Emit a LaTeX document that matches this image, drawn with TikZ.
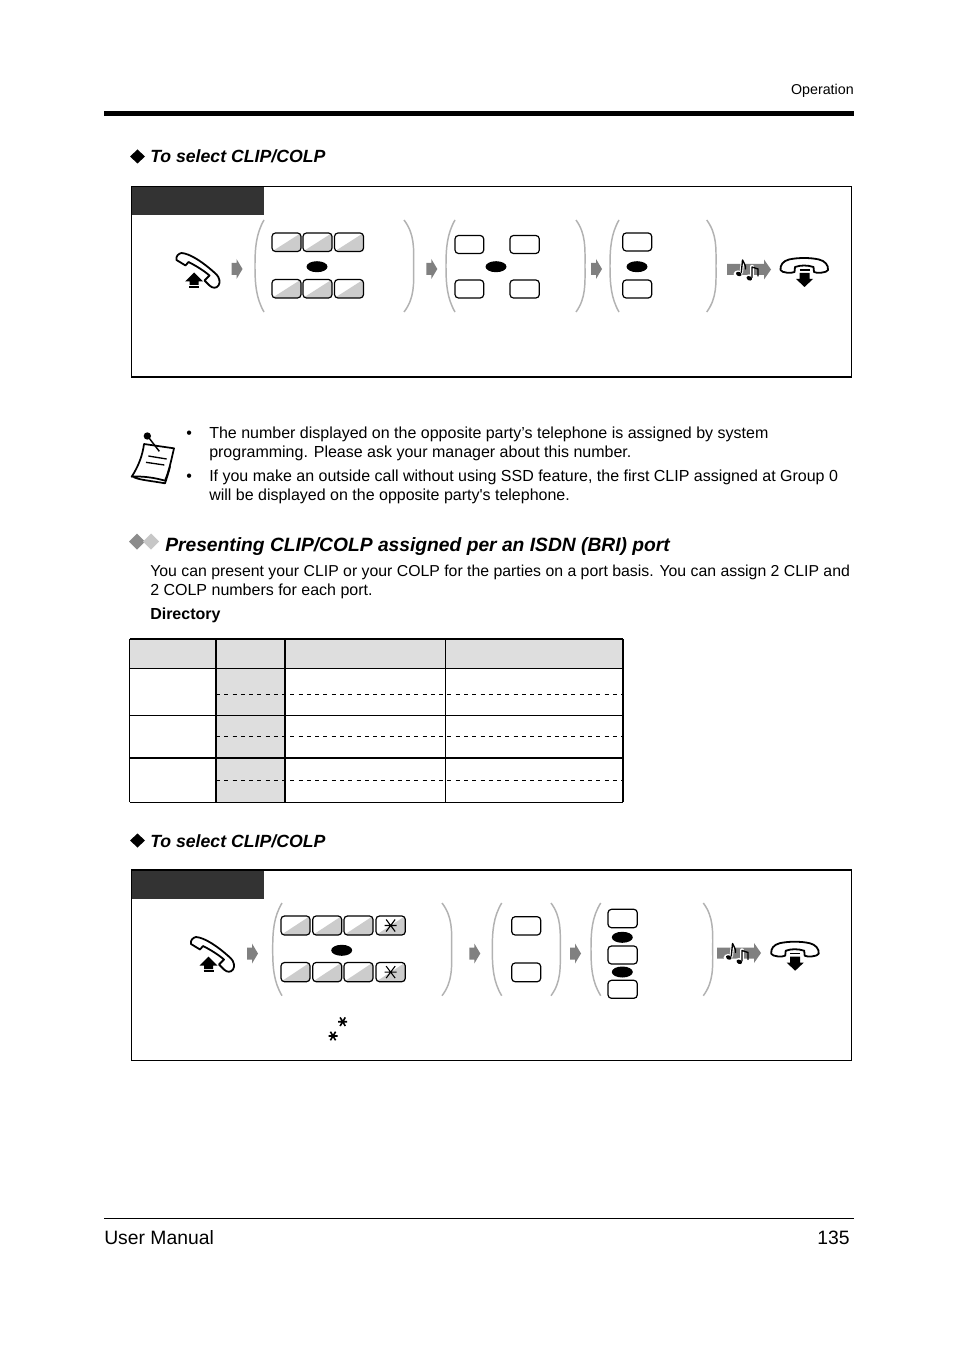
\documentclass[tikz,border=0pt]{standalone}
\usepackage{fontspec}
\setmainfont{Liberation Sans}
\newfontfamily\plainf{Liberation Sans}
\newcommand{\fsz}[1]{\fontsize{#1}{#1}\selectfont}
\tikzset{
  x=0.75pt,y=-0.75pt,
  txt/.style={inner sep=0pt,anchor=base west,font=\fsz{12}},
  subhead/.style={inner sep=0pt,anchor=base west,font=\fsz{13.25}\bfseries\itshape},
  frame/.style={draw=black,line width=0.9pt,fill=white},
  hdr/.style={fill=black!80,draw=none},
  brk/.style={draw=black!30,line width=1.1pt},
  flow/.style={fill=black!50,draw=none},
  dot/.style={fill=black,draw=none},
  keybox/.style={draw=black,line width=0.9pt,rounded corners=2.6pt},
  cellfill/.style={fill=black!13,draw=none},
  thin rule/.style={line width=0.75pt},
  mid rule/.style={line width=1.3pt},
  dash rule/.style={line width=0.55pt,dash pattern=on 3pt off 3.2pt},
  phone/.style={draw=black,line width=1.35pt,fill=white,line join=round},
}
% plain key: x1,y1,x2,y2
\newcommand{\pkey}[4]{\draw[keybox,fill=white] (#1,#2) rectangle (#3,#4);}
% shaded key
\newcommand{\gkey}[4]{%
  \begin{scope}
    \clip[rounded corners=2.6pt] (#1,#2) rectangle (#3,#4);
    \fill[black!20] (#1,#4) -- (#3,#2) -- (#3,#4) -- cycle;
  \end{scope}
  \draw[keybox] (#1,#2) rectangle (#3,#4);}
\newcommand{\skey}[4]{\gkey{#1}{#2}{#3}{#4}%
  \draw[line width=0.8pt] ({(#1+#3)/2-6},{(#2+#4)/2}) -- ({(#1+#3)/2+6},{(#2+#4)/2})
    ({(#1+#3)/2-4.5},{(#2+#4)/2-6}) -- ({(#1+#3)/2+4.5},{(#2+#4)/2+6})
    ({(#1+#3)/2+4.5},{(#2+#4)/2-6}) -- ({(#1+#3)/2-4.5},{(#2+#4)/2+6});}
% or-oval
\newcommand{\ordot}[2]{\fill[dot] (#1,#2) ellipse [x radius=10.5,y radius=5.5];}
% flow arrow at left x, centre y
\newcommand{\flowarrow}[2]{\fill[flow] (#1,#2-6) -- (#1+5,#2-6) -- (#1+5,#2-10) -- (#1+11,#2) -- (#1+5,#2+10) -- (#1+5,#2+6) -- (#1,#2+6) -- cycle;}
% parentheses: x outer, x inner, top, bottom
\newcommand{\lbrk}[4]{\draw[brk] (#2,#3) .. controls (#1+1,#3+14) and (#1,#3+28) .. (#1,#3+46) .. controls (#1,#4-28) and (#1+1,#4-14) .. (#2,#4);}
% off-hook handset at origin = top left
\newcommand{\offhook}[2]{%
  \begin{scope}[shift={(#1,#2)}]
    \draw[phone] (1,7.5) .. controls (0,4) and (3,1) .. (6,0.5) .. controls (14,1) and (27,9) .. (41,22)
      .. controls (44,25) and (45,30) .. (43,33) .. controls (41,36) and (37,36) .. (34,33)
      -- (29,28) -- (34,23) .. controls (27,17) and (18,12) .. (13,9.5) -- (10,13) -- cycle;
    \fill (18.5,20) -- (27.5,29) -- (23,29) -- (23,32.5) -- (14,32.5) -- (14,29) -- (9.5,29) -- cycle;
    \draw[line width=0.8pt] (13.5,34.5) -- (23.5,34.5);
  \end{scope}}
% on-hook handset
\newcommand{\onhook}[2]{%
  \begin{scope}[shift={(#1,#2)}]
    \draw[phone] (0.5,12) .. controls (0,7) and (3,3) .. (9,1.5) .. controls (18,-0.5) and (30,-0.5) .. (39,1.5)
      .. controls (45,3) and (48.5,7) .. (48,12) .. controls (47,15) and (36,15.5) .. (34,14)
      -- (33.5,9) .. controls (27,7) and (21,7) .. (15,9) -- (14.5,14) .. controls (12,15.5) and (1.5,15) .. (0.5,12) -- cycle;
    \draw[line width=0.8pt] (19.5,12) -- (29.5,12);
    \fill (19.5,15) -- (29.5,15) -- (29.5,21) -- (33,21) -- (24.5,29) -- (16,21) -- (19.5,21) -- cycle;
  \end{scope}}
% tone arrow with two notes
\newcommand{\tone}[2]{%
  \begin{scope}[shift={(#1,#2)}]
    \fill[flow] (0,-5.5) -- (37,-5.5) -- (37,-10) -- (44,0) -- (37,10) -- (37,5.5) -- (0,5.5) -- cycle;
    \begin{scope}[line cap=round]
      \draw[white,line width=2.6pt] (15.5,-8) -- (14.3,3);
      \fill[white] (11,4.5) ellipse [x radius=4.4,y radius=3.6];
      \draw[white,line width=2.6pt] (25,-3) -- (25,8);
      \fill[white] (22,8.5) ellipse [x radius=4.4,y radius=3.6];
      \draw[line width=1pt] (15.5,-9.5) -- (14.3,3) (15.5,-9.5) .. controls (16.5,-6) and (19,-5) .. (18.5,-0.5);
      \fill[rotate around={-25:(11.8,4.5)}] (11.8,4.5) ellipse [x radius=2.9,y radius=2.1];
      \draw[line width=1pt] (25,-2.5) -- (25,8) (25,-2.5) -- (31,-0.5) -- (31,6.5);
      \fill[rotate around={-25:(22.3,8.8)}] (22.3,8.8) ellipse [x radius=2.9,y radius=2.1];
    \end{scope}
  \end{scope}}
\begin{document}
\begin{tikzpicture}
\useasboundingbox (0,0) rectangle (954,1351);
\fill[white] (0,0) rectangle (954,1351);
% page head
\node[inner sep=0pt,anchor=base east,font=\fsz{10.7}] (runhead) at (854,94.5) {Operation};
\fill (104,111) rectangle (854,116);

% section one
\fill (130,156.5) -- (137.5,149.5) -- (145,156.5) -- (137.5,163.5) -- cycle;
\node[subhead] (sel1) at (150,162.5) {To select CLIP/COLP};
\draw[frame] (131.5,186.5) rectangle (851.5,377);
\fill[hdr] (132,187) rectangle (264,215);
\offhook{175.5}{252.5}
\flowarrow{231.5}{269}
\lbrk{255}{264}{220}{312}
\lbrk{413.7}{404}{220}{312}
\gkey{272}{233}{301}{251.5}\gkey{303}{233}{332}{251.5}\gkey{334.5}{233}{363.5}{251.5}
\ordot{317}{266.7}
\gkey{272}{279.5}{301}{298}\gkey{303}{279.5}{332}{298}\gkey{334.5}{279.5}{363.5}{298}
\flowarrow{426.3}{269}
\lbrk{446}{455}{220}{312}
\lbrk{585}{576}{220}{312}
\pkey{455}{235.5}{483.7}{253.5}\pkey{510}{235.5}{539.3}{253.5}
\ordot{496}{266.7}
\pkey{455}{280}{483.7}{298}\pkey{510}{280}{539.3}{298}
\flowarrow{591}{269}
\lbrk{610}{619}{220}{312}
\lbrk{716}{706.7}{220}{312}
\pkey{622.7}{233}{651.7}{251}
\ordot{637}{266.7}
\pkey{622.7}{280}{651.7}{298}
\tone{727}{269.5}
\onhook{780}{258}

% note
\begin{scope}[shift={(120,420)},x=0.25pt,y=-0.25pt]
  \draw[line width=1.3pt,line join=round,fill=white] (42,172) .. controls (60,180) and (90,182) .. (135,190) .. controls (140,175) and (145,160) .. (150,140) -- (120,150) -- cycle;
  \draw[line width=1.3pt,line join=round,fill=white] (72,72) -- (162,85) .. controls (155,115) and (148,150) .. (135,182) .. controls (100,172) and (65,168) .. (35,170) .. controls (55,140) and (68,105) .. (72,72) -- cycle;
  \draw[line width=1pt] (85,108) -- (140,117) (78,127) -- (133,135);
  \draw[line width=1.1pt] (84,50) -- (118,94);
  \fill (82,48) circle [radius=11];
\end{scope}
\node[txt] (b1) at (186,438) {•};
\node[txt] (n1) at (209,438) {The number displayed on the opposite party’s telephone is assigned by system};
\node[txt] (n2) at (209,457) {programming. Please ask your manager about this number.};
\node[txt] (b2) at (186,481) {•};
\node[txt] (n3) at (209,481) {If you make an outside call without using SSD feature, the first CLIP assigned at Group 0};
\node[txt,font=\fsz{12}\plainf] (n4) at (209,500) {will be displayed on the opposite party's telephone.};

% section two
\fill[black!45] (129,541.5) -- (137,533.5) -- (145,541.5) -- (137,549.5) -- cycle;
\fill[black!22] (143,541.5) -- (151,533.5) -- (159,541.5) -- (151,549.5) -- cycle;
\node[inner sep=0pt,anchor=base west,font=\fsz{14.43}\bfseries\itshape] (title) at (165,551) {Presenting CLIP/COLP assigned per an ISDN (BRI) port};
\node[txt,font=\fsz{11.87}] (p1) at (150,576) {You can present your CLIP or your COLP for the parties on a port basis. You can assign 2 CLIP and};
\node[txt] (p2) at (150,595) {2 COLP numbers for each port.};
\node[inner sep=0pt,anchor=base west,font=\fsz{12}\bfseries] (dir) at (150,619) {Directory};

% table
\fill[cellfill] (129.7,639) rectangle (623,668.3);
\fill[cellfill] (216,668.3) rectangle (285,802.3);
\draw[dash rule] (216,694.3) -- (622,694.3) (216,736.3) -- (622,736.3) (216,780.3) -- (622,780.3);
\draw[thin rule] (129.7,668.3) -- (623,668.3) (129.7,715.3) -- (623,715.3) (445.3,639) -- (445.3,802.3) (129.7,802.3) -- (623,802.3);
\draw[mid rule] (129.7,757.7) -- (623,757.7) (215.7,639) -- (215.7,802.3) (285,639) -- (285,802.3);
\draw[mid rule] (129.7,639) -- (623,639);
\draw[line width=0.9pt] (129.7,639) -- (129.7,802.3);
\draw[mid rule] (623,639) -- (623,802.3);

% section three
\fill (130,840.5) -- (137.5,833.5) -- (145,840.5) -- (137.5,847.5) -- cycle;
\node[subhead] (sel2) at (150,847) {To select CLIP/COLP};
\draw[frame] (131.5,870) rectangle (851.5,1060.5);
\fill[hdr] (132,870.5) rectangle (264,899);
\offhook{190}{936.5}
\flowarrow{247}{953.5}
\lbrk{272.7}{282}{903}{995.7}
\lbrk{451.7}{442}{903}{995.7}
\gkey{281}{916}{310}{935}\gkey{312.7}{916}{341.7}{935}\gkey{344}{916}{373}{935}\skey{376}{916}{405.3}{935}
\ordot{341.7}{950.3}
\gkey{281}{962.5}{310}{981.7}\gkey{312.7}{962.5}{341.7}{981.7}\gkey{344}{962.5}{373}{981.7}\skey{376}{962.5}{405.3}{981.7}
\flowarrow{469.3}{953.5}
\lbrk{492.3}{501.7}{903}{995.7}
\lbrk{560.3}{551}{903}{995.7}
\pkey{511.7}{916.7}{540.7}{935}
\pkey{511.7}{963}{540.7}{981.7}
\flowarrow{570}{953.5}
\lbrk{591}{600.7}{903}{995.7}
\lbrk{712.7}{703.3}{903}{995.7}
\pkey{608}{909.3}{637.3}{927.7}
\ordot{622.3}{937.3}
\pkey{608}{946}{637.3}{964}
\ordot{622.3}{972}
\pkey{608}{980.3}{637.3}{998.3}
\tone{717}{953}
\onhook{770.7}{941.7}
\foreach \ax/\ay in {342.7/1021.7,333/1036}{
  \draw[line width=1.2pt] (\ax-4.5,\ay) -- (\ax+4.5,\ay) (\ax-2.6,\ay-4.3) -- (\ax+2.6,\ay+4.3) (\ax+2.6,\ay-4.3) -- (\ax-2.6,\ay+4.3);
}

% footer
\draw[line width=0.75pt] (104,1218.5) -- (854,1218.5);
\node[inner sep=0pt,anchor=base west,font=\fsz{14.5}] (foot) at (104,1244) {User Manual};
\node[inner sep=0pt,anchor=base east,font=\fsz{14.5}] (page) at (850,1244) {135};
\end{tikzpicture}
\end{document}
